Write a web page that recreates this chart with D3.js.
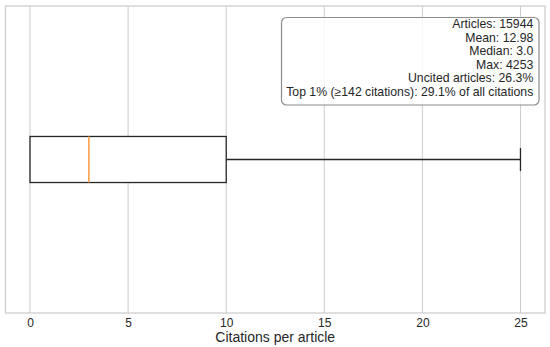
<!DOCTYPE html>
<html>
<head>
<meta charset="utf-8">
<script src="https://cdn.jsdelivr.net/npm/d3@7"></script>
<style>
  body { margin: 0; background: #fff; }
  text { font-family: "Liberation Sans", Arial, sans-serif; fill: #262626; }
</style>
</head>
<body>
<div id="chart"></div>
<script>
// Statistiques du boxplot (sans les valeurs aberrantes)
const boxStats = [{ whiskerLow: 0, q1: 0, median: 3, q3: 10, whiskerHigh: 25 }];
const xTicks = [0, 5, 10, 15, 20, 25];
const statLines = [
    "Articles: 15944",
    "Mean: 12.98",
    "Median: 3.0",
    "Max: 4253",
    "Uncited articles: 26.3%",
    "Top 1% (\u2265142 citations): 29.1% of all citations"
];

const width = 550, height = 347;
const margin = { top: 6, right: 5, bottom: 34, left: 5.5 };

const svg = d3.select('#chart').append('svg')
    .attr('width', width)
    .attr('height', height);

const x = d3.scaleLinear()
    .domain([-1.25, 26.25])
    .range([margin.left, width - margin.right]);

const y = d3.scaleLinear()
    .domain([1.5, 0.5])
    .range([margin.top, height - margin.bottom]);

// Grille verticale
svg.append('g')
    .selectAll('line')
    .data(xTicks)
    .enter()
    .append('line')
    .attr('x1', d => x(d)).attr('x2', d => x(d))
    .attr('y1', margin.top).attr('y2', height - margin.bottom)
    .attr('stroke', '#cccccc')
    .attr('stroke-width', 1);

// Axe X
const xAxis = d3.axisBottom(x).tickValues(xTicks).tickSize(0).tickPadding(5);
const gx = svg.append('g')
    .attr('transform', `translate(0, ${height - margin.bottom})`)
    .call(xAxis);
gx.select('.domain').remove();
gx.selectAll('text')
    .attr('font-size', '12px')
    .attr('font-family', '"Liberation Sans", Arial, sans-serif')
    .attr('fill', '#262626');

// Cadre
svg.append('rect')
    .attr('x', margin.left)
    .attr('y', margin.top)
    .attr('width', width - margin.left - margin.right)
    .attr('height', height - margin.top - margin.bottom)
    .attr('fill', 'none')
    .attr('stroke', '#cccccc')
    .attr('stroke-width', 1.25);

// Boîte
const boxW = 0.15;
boxStats.forEach(d => {
    const g = svg.append('g');
    const yc = 1;
    g.append('line')
        .attr('x1', x(d.q3)).attr('x2', x(d.whiskerHigh))
        .attr('y1', y(yc)).attr('y2', y(yc))
        .attr('stroke', '#262626').attr('stroke-width', 1.3);
    g.append('line')
        .attr('x1', x(d.whiskerHigh)).attr('x2', x(d.whiskerHigh))
        .attr('y1', y(yc - boxW / 4)).attr('y2', y(yc + boxW / 4))
        .attr('stroke', '#262626').attr('stroke-width', 1.3);
    g.append('rect')
        .attr('x', x(d.q1))
        .attr('y', y(yc + boxW / 2))
        .attr('width', x(d.q3) - x(d.q1))
        .attr('height', y(yc - boxW / 2) - y(yc + boxW / 2))
        .attr('fill', 'white')
        .attr('stroke', '#262626')
        .attr('stroke-width', 1.3);
    g.append('line')
        .attr('x1', x(d.median)).attr('x2', x(d.median))
        .attr('y1', y(yc + boxW / 2)).attr('y2', y(yc - boxW / 2))
        .attr('stroke', '#ffa04a').attr('stroke-width', 1.6);
});

// Titre de l'axe
svg.append('text')
    .attr('x', (margin.left + width - margin.right) / 2)
    .attr('y', 342)
    .attr('text-anchor', 'middle')
    .attr('font-size', '14px')
    .text('Citations per article');

// Encadré de statistiques
const box = svg.append('g');
const lineH = 13.5;
const tx = 533.3, ty0 = 28.3;
box.append('rect')
    .attr('x', 281.5).attr('y', 17.5)
    .attr('width', 257.5).attr('height', 87.5)
    .attr('rx', 5).attr('ry', 5)
    .attr('fill', 'white').attr('fill-opacity', 0.85)
    .attr('stroke', '#8c8c8c').attr('stroke-width', 1.2);
box.selectAll('text')
    .data(statLines)
    .enter()
    .append('text')
    .attr('x', tx)
    .attr('y', (d, i) => ty0 + i * lineH)
    .attr('text-anchor', 'end')
    .attr('font-size', '12.25px')
    .text(d => d);
</script>
</body>
</html>
